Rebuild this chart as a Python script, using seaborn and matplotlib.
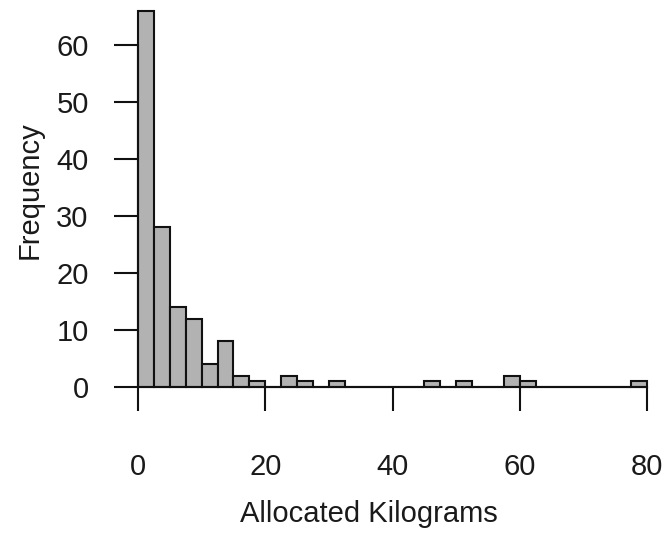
import numpy as np
import matplotlib
matplotlib.use("Agg")
import matplotlib.pyplot as plt
import seaborn as sns

# Histogram of allocated kilograms: bins of 2.5 kg from 0 to 80
bin_width = 2.5
bin_starts = [i * 2.5 for i in range(32)]
counts = [66, 28, 14, 12, 4, 8, 2, 1, 0, 2, 1, 0, 1, 0, 0, 0,
          0, 0, 1, 0, 1, 0, 0, 2, 1, 0, 0, 0, 0, 0, 0, 1]
x_ticks = [0, 20, 40, 60, 80]
y_ticks = [0, 10, 20, 30, 40, 50, 60]

sns.set_style("ticks")
plt.rcParams["font.family"] = ["Liberation Sans", "DejaVu Sans"]

W, H = 668, 535
fig = plt.figure(figsize=(W / 100, H / 100), dpi=100)

# axes placed so that x in [-3.2, 83.2], y in [-2.64, 68.64]
px_x = 6.3625
px_y = 5.7
left_px = 138 - 3.2 * px_x
bottom_px = 387 + 2.64 * px_y
width_px = 86.4 * px_x
height_px = 71.28 * px_y
ax = fig.add_axes([left_px / W, (H - bottom_px) / H, width_px / W, height_px / H])

edges = bin_starts + [bin_starts[-1] + bin_width]
centers = [b + bin_width / 2 for b in bin_starts]
sns.histplot(x=centers, weights=counts, bins=edges, color="#b2b2b2",
             edgecolor="#111111", linewidth=1.5, alpha=1, ax=ax, zorder=2)

ax.set_xlim(-3.2, 83.2)
ax.set_ylim(-2.64, 68.64)

for s in ["top", "right"]:
    ax.spines[s].set_visible(False)
ax.spines["left"].set_position(("data", 0))
ax.spines["bottom"].set_position(("data", 0))
ax.spines["left"].set_bounds(0, 60)
ax.spines["bottom"].set_bounds(0, 80)
for s in ["left", "bottom"]:
    ax.spines[s].set_linewidth(1.5)
    ax.spines[s].set_color("#111111")
    ax.spines[s].set_zorder(3)

ax.set_xticks(x_ticks)
ax.set_yticks(y_ticks)
ax.set_xticklabels([str(v) for v in x_ticks])
ax.set_yticklabels([str(v) for v in y_ticks])
ax.tick_params(axis="both", direction="out", length=17.5, width=1.5,
               color="#111111", labelsize=21, labelcolor="#1a1a1a")
ax.tick_params(axis="x", pad=30)
ax.tick_params(axis="y", pad=18)

ax.set_xlabel("Allocated Kilograms", fontsize=21, color="#1a1a1a", va="top")
ax.set_ylabel("Frequency", fontsize=21, color="#1a1a1a", va="center")
ax.xaxis.set_label_coords((369 - left_px) / width_px, (bottom_px - 500) / height_px)
ax.yaxis.set_label_coords((29.5 - left_px) / width_px, (bottom_px - 190) / height_px)

fig.savefig("out.png", dpi=100)
